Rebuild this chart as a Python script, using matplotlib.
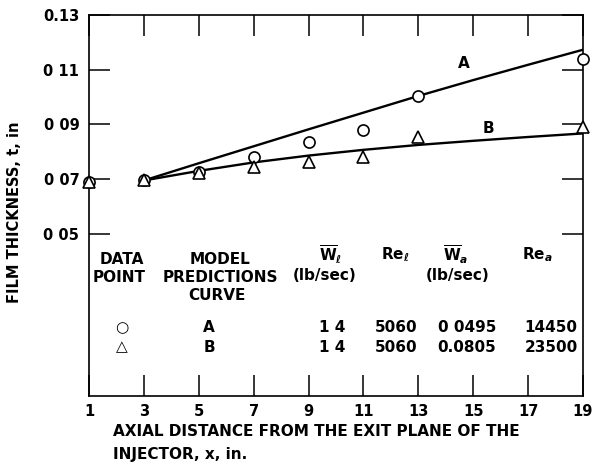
import matplotlib
matplotlib.use("Agg")
import matplotlib.pyplot as plt

# measured data points (film thickness, in) at axial distance x (in)
x_data = [1, 3, 5, 7, 9, 11, 13, 19]
t_circle = [0.0688, 0.0695, 0.0727, 0.0782, 0.0836, 0.0879, 0.1005, 0.1139]
t_triangle = [0.0688, 0.0695, 0.0724, 0.0746, 0.0763, 0.0782, 0.0855, 0.0889]

# model prediction curves
x_curve = [3, 5, 7, 9, 11, 13, 15, 17, 19]
curve_a = [0.0695, 0.0758, 0.0820, 0.0882, 0.0943, 0.1004, 0.1062, 0.1118, 0.1173]
curve_b = [0.0695, 0.0730, 0.0761, 0.0786, 0.0807, 0.0825, 0.0840, 0.0854, 0.0867]

x_ticks = [1, 3, 5, 7, 9, 11, 13, 15, 17, 19]
x_tick_labels = ["1", "3", "5", "7", "9", "11", "13", "15", "17", "19"]
y_ticks = [0.05, 0.07, 0.09, 0.11, 0.13]
y_tick_labels = ["0 05", "0 07", "0 09", "0 11", "0.13"]

# table under the curves
tab_symbol = ["\u25cb", "\u25b3"]
tab_curve = ["A", "B"]
tab_wl = ["1 4", "1 4"]
tab_rel = ["5060", "5060"]
tab_wa = ["0 0495", "0.0805"]
tab_rea = ["14450", "23500"]

W, H = 602, 470
plt.rcParams["font.family"] = "DejaVu Sans"
plt.rcParams["font.weight"] = "bold"
plt.rcParams["mathtext.fontset"] = "dejavusans"

fig = plt.figure(figsize=(W / 100, H / 100), dpi=100)
ax = fig.add_axes([89 / W, 1 - 396 / H, (583 - 89) / W, (396 - 15) / H])

ax.plot(x_curve, curve_a, color="black", lw=1.7)
ax.plot(x_curve, curve_b, color="black", lw=1.7)
ax.plot(x_data, t_circle, "o", ms=8, mfc="white", mec="black", mew=1.2, clip_on=False, zorder=5)
ax.plot(x_data, t_triangle, "^", ms=8, mfc="white", mec="black", mew=1.2, clip_on=False, zorder=6)

ax.text(14.64, 0.1123, "A", fontsize=11, ha="center", va="center")
ax.text(15.55, 0.0886, "B", fontsize=11, ha="center", va="center")

ax.set_xlim(1, 19)
ax.set_ylim(-0.0093, 0.13)
ax.set_xticks(x_ticks)
ax.set_xticklabels(x_tick_labels)
ax.set_yticks(y_ticks)
ax.set_yticklabels(y_tick_labels)
ax.tick_params(direction="in", length=15, width=1.1, labelsize=10.5,
               top=True, right=True)
ax.tick_params(axis="x", pad=6)
ax.tick_params(axis="y", pad=7)
for s in ax.spines.values():
    s.set_linewidth(1.2)


def ftext(px, py, s, **kw):
    fig.text(px / W, 1 - py / H, s, fontsize=11, ha="center", va="center", **kw)


# table headers
ftext(122, 259, "DATA")
ftext(119, 277, "POINT")
ftext(220, 259, "MODEL")
ftext(220, 277, "PREDICTIONS")
ftext(217, 295, "CURVE")
ftext(331, 255, r"$\overline{\mathbf{W}}_{\ell}$")
ftext(325, 276, "(lb/sec)")
ftext(395, 255, r"$\mathbf{Re}_{\ell}$")
ftext(456, 255, r"$\overline{\mathbf{W}}_{a}$")
ftext(458, 276, "(lb/sec)")
ftext(537, 255, r"$\mathbf{Re}_{a}$")

# table rows
row_y = [328, 347]
for i in range(2):
    ftext(122, row_y[i], tab_symbol[i])
    ftext(209, row_y[i], tab_curve[i])
    ftext(332, row_y[i], tab_wl[i])
    ftext(396, row_y[i], tab_rel[i])
    ftext(467, row_y[i], tab_wa[i])
    ftext(551, row_y[i], tab_rea[i])

fig.text(15 / W, 1 - 212 / H, "FILM THICKNESS, t, in", rotation=90,
         fontsize=10.5, ha="center", va="center")
fig.text(113 / W, 1 - 432 / H, "AXIAL DISTANCE FROM THE EXIT PLANE OF THE",
         fontsize=11, ha="left", va="center")
fig.text(113 / W, 1 - 455 / H, "INJECTOR, x, in.",
         fontsize=11, ha="left", va="center")

fig.savefig("out.png", dpi=100)
